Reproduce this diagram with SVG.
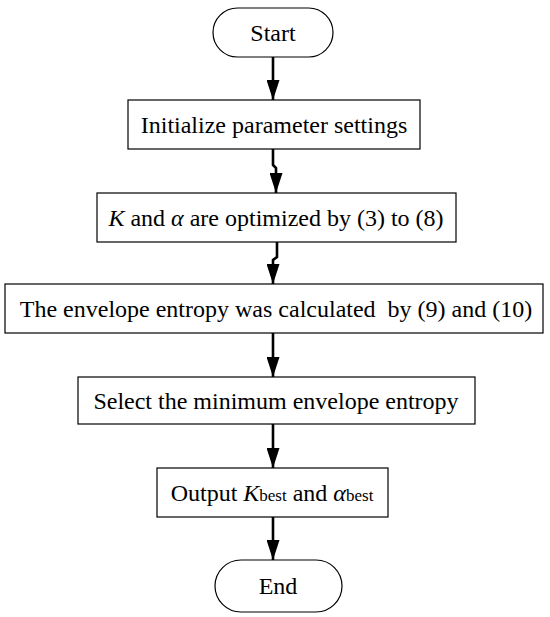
<svg xmlns="http://www.w3.org/2000/svg" width="550" height="617" viewBox="0 0 550 617">
<style>
.box{fill:#fff;stroke:#000;stroke-width:1.2}
.t{font-family:"Liberation Serif","Times New Roman",serif;font-size:24px;fill:#000;text-anchor:middle}
.i{font-style:italic}
.s{font-size:17px}
.c{fill:none;stroke:#000;stroke-width:2.6}
</style>
<defs>
<marker id="ah" markerUnits="userSpaceOnUse" markerWidth="20" markerHeight="13" refX="20" refY="6.5" orient="auto" viewBox="0 0 20 13">
<path d="M0,0 L20,6.5 L0,13 Z" fill="#000"/>
</marker>
</defs>
<rect width="550" height="617" fill="#fff"/>
<g id="connectors">
<polyline class="c" points="273,57 273,100" marker-end="url(#ah)"/>
<polyline class="c" points="273,149 273,165 276,168 276,193" marker-end="url(#ah)"/>
<polyline class="c" points="277,242 277,257 273,260 273,284" marker-end="url(#ah)"/>
<polyline class="c" points="273,333 273,377" marker-end="url(#ah)"/>
<polyline class="c" points="273,424 273,468" marker-end="url(#ah)"/>
<polyline class="c" points="273,517 273,560" marker-end="url(#ah)"/>
</g>
<g id="start">
<rect class="box" x="213" y="8" width="120" height="49" rx="24.5"/>
<text class="t" x="273" y="41">Start</text>
</g>
<g id="init">
<rect class="box" x="128" y="100" width="292" height="49"/>
<text class="t" x="274" y="133">Initialize parameter settings</text>
</g>
<g id="optimize">
<rect class="box" x="97" y="193" width="359" height="49"/>
<text class="t" x="276" y="226"><tspan class="i">K</tspan> and <tspan class="i">α</tspan> are optimized by (3) to (8)</text>
</g>
<g id="entropy">
<rect class="box" x="5" y="284" width="538" height="49"/>
<text class="t" x="276" y="317" xml:space="preserve">The envelope entropy was calculated  by (9) and (10)</text>
</g>
<g id="select">
<rect class="box" x="78" y="377" width="397" height="47"/>
<text class="t" x="276" y="409">Select the minimum envelope entropy</text>
</g>
<g id="output">
<rect class="box" x="157" y="468" width="231" height="49"/>
<text class="t" x="272" y="501">Output <tspan class="i">K</tspan><tspan class="s">best</tspan> and <tspan class="i">α</tspan><tspan class="s">best</tspan></text>
</g>
<g id="end">
<rect class="box" x="215" y="560" width="127" height="52" rx="26"/>
<text class="t" x="278" y="594">End</text>
</g>
</svg>
